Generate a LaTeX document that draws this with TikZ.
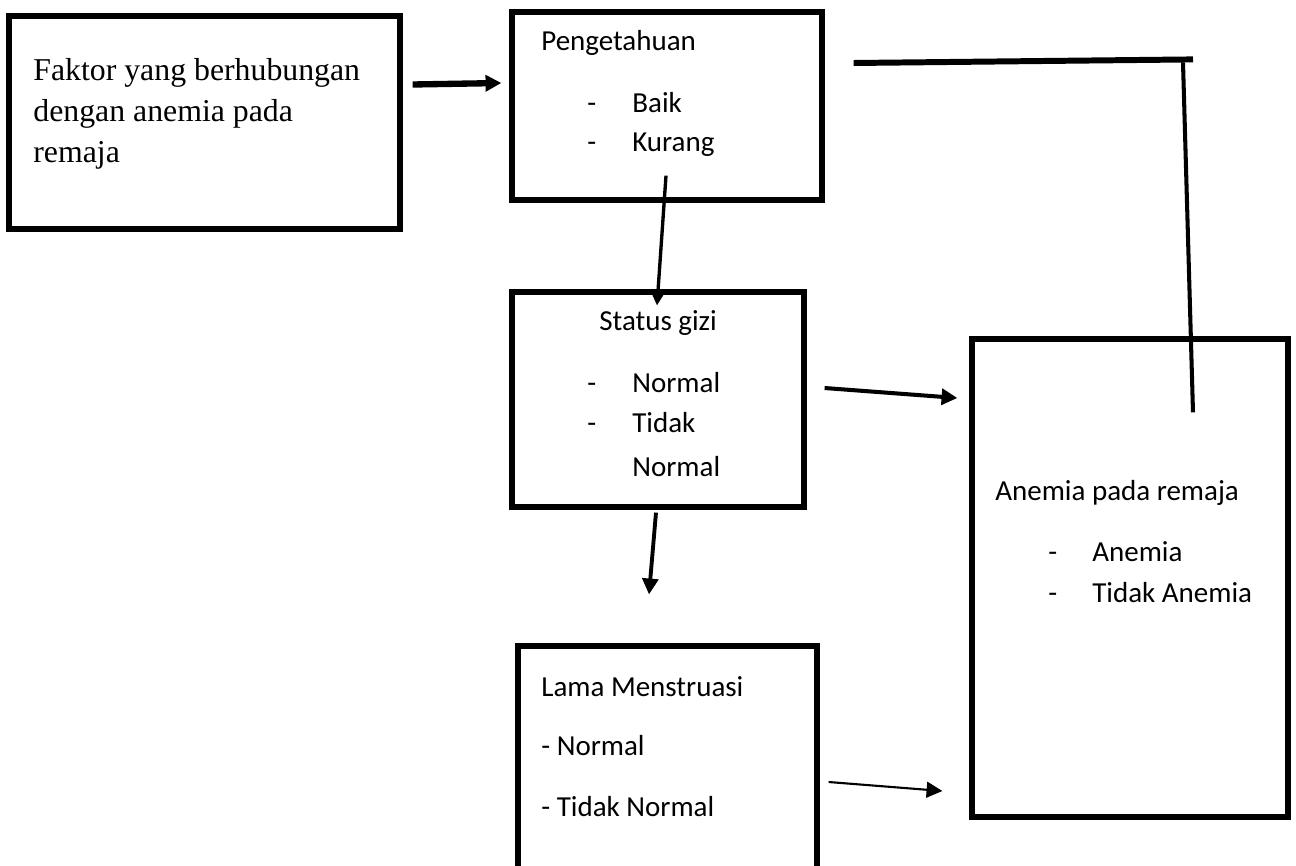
\documentclass[tikz,border=0pt]{standalone}
\usepackage{fontspec}
\setmainfont{Carlito}
\newfontfamily\serifrm{Liberation Serif}
\usetikzlibrary{arrows.meta, positioning, calc}

\begin{document}
\begin{tikzpicture}[x=0.02cm, y=-0.02cm,
      box/.style={draw, line width=3pt, rectangle, inner sep=0pt},
      lbl/.style={anchor=west, inner sep=0pt, font=\fontsize{16.5}{20}\selectfont},
      hyph/.style={lbl, anchor=base west},
      tip/.style={-{Triangle[length=9pt, width=9pt]}}]
      \useasboundingbox (0, 0) rectangle (1296, 866);

      \node[box, minimum width=7.82cm, minimum height=4.26cm] (fak) at (204.5, 122.5) {};
      \node[box, minimum width=6.2cm, minimum height=3.76cm] (peng) at (667, 106) {};
      \node[box, minimum width=5.84cm, minimum height=4.3cm] (gizi) at (658, 399.5) {};
      \node[box, minimum width=6.32cm, minimum height=9.56cm] (anem) at (1130, 578) {};
      \node[box, minimum width=5.98cm, minimum height=5.08cm] (lama) at (667.5, 773) {};

      \node[anchor=west, inner sep=0pt, align=left, font=\serifrm\fontsize{18.1}{23.2}\selectfont] (fakt) at (33, 114)
        {Faktor yang berhubungan\\dengan anemia pada\\remaja};

      \node[lbl] (pengt) at (541, 43) {Pengetahuan};
      \node[lbl] (peng1) at (632, 103) {Baik};
      \node[lbl] (peng2) at (632, 145) {Kurang};
      \node[hyph] (pengd1) at (587,0 |- peng1.base) {-};
      \node[hyph] (pengd2) at (587,0 |- peng2.base) {-};

      \node[lbl] (gizit) at (599, 323) {Status gizi};
      \node[lbl] (gizi1) at (632, 383) {Normal};
      \node[lbl] (gizi2) at (632, 423) {Tidak};
      \node[lbl] (gizi3) at (632, 467) {Normal};
      \node[hyph] (gizid1) at (587,0 |- gizi1.base) {-};
      \node[hyph] (gizid2) at (587,0 |- gizi2.base) {-};

      \node[lbl] (anemt) at (995, 493) {Anemia pada remaja};
      \node[lbl] (anem1) at (1092, 552) {Anemia};
      \node[lbl] (anem2) at (1092, 593) {Tidak Anemia};
      \node[hyph] (anemd1) at (1048,0 |- anem1.base) {-};
      \node[hyph] (anemd2) at (1048,0 |- anem2.base) {-};

      \node[lbl] (lamat) at (541, 687) {Lama Menstruasi};
      \node[lbl] (lama1) at (541, 746) {- Normal};
      \node[lbl] (lama2) at (541, 807) {- Tidak Normal};

      \draw[tip, line width=3.6pt] ($(fak.east)+(10, -38)$) -- ($(peng.west)+(-8, -23)$);
      \draw[line width=3.4pt] ($(peng.east)+(29, -43)$) -- ($(anem.north)+(63, -277)$);
      \draw[line width=2.3pt] ($(anem.north)+(53, -274)$) -- ($(anem.north)+(63, 76)$);
      \draw[tip, line width=1.9pt] ($(peng.south)+(-1, -27)$) -- ($(gizi.north)+(-1, 16)$);
      \draw[tip, line width=2.3pt] ($(gizi.east)+(18, -11.5)$) -- ($(anem.west)+(-12, -180)$);
      \draw[tip, line width=2.2pt] ($(gizi.south)+(-2, 3)$) -- ($(lama.north)+(-18.5, -49)$);
      \draw[tip, line width=1.2pt] ($(lama.east)+(9, 9)$) -- ($(anem.west)+(-27, 213)$);
    \end{tikzpicture}
\end{document}
